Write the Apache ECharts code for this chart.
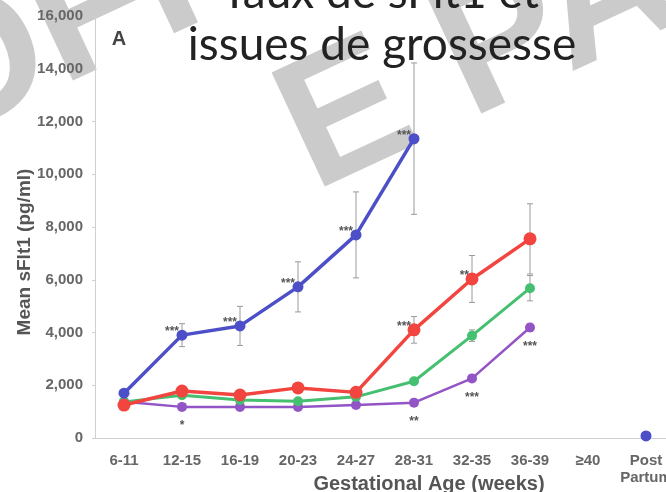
<!DOCTYPE html>
<html>
<head>
<meta charset="utf-8">
<script src="https://cdn.jsdelivr.net/npm/echarts@6/dist/echarts.min.js"></script>
<style>
  html, body { margin: 0; padding: 0; background: #fff; }
  #wrap { position: relative; width: 666px; height: 492px; overflow: hidden; background: #fff; }
  #plot { position: absolute; left: 0; top: 0; width: 682px; height: 492px; filter: blur(0.6px); }
  #head { position: absolute; left: 0; top: 0; width: 666px; height: 492px; pointer-events: none; }
</style>
</head>
<body>
<div id="wrap"><div id="plot"></div><div id="head"></div></div>
<script>
// Gestational age groups (x categories)
const ageGroups = ['6-11', '12-15', '16-19', '20-23', '24-27', '28-31', '32-35', '36-39', '≥40', 'Post\nPartum'];

// Value axis range (pg/ml)
const yMin = 0;
const yMax = 16000;
const yStep = 2000;

// Mean sFlt1 per group, one array per outcome group
const blueMean   = [1700, 3900, 4250, 5730, 7700, 11350, null, null, null, 80];
const redMean    = [1250, 1780, 1630, 1900, 1730, 4100, 6030, 7550, null, null];
const greenMean  = [1370, 1620, 1440, 1390, 1560, 2150, 3880, 5680, null, null];
const purpleMean = [1370, 1180, 1180, 1180, 1250, 1340, 2260, 4190, null, 80];

// Error (± around the mean)
const blueErr   = [null, 435, 740, 950, 1630, 2870, null, null, null, null];
const redErr    = [null, null, null, null, null, 505, 890, 1330, null, null];
const greenErr  = [null, null, null, null, null, 120, 220, 480, null, null];
const purpleErr = [null, null, null, null, null, null, null, 150, null, null];

// Significance marks: [group, category index, text, placement]
const sigMarks = [
  ['blue', 1, '***', 'left'],
  ['blue', 2, '***', 'left'],
  ['blue', 3, '***', 'left'],
  ['blue', 4, '***', 'left'],
  ['blue', 5, '***', 'left'],
  ['red', 5, '***', 'left'],
  ['red', 6, '**', 'left'],
  ['purple', 1, '*', 'below'],
  ['purple', 5, '**', 'below'],
  ['purple', 6, '***', 'below'],
  ['purple', 7, '***', 'below']
];

const colors = { blue: '#4c4fc7', red: '#f2453f', green: '#45bf70', purple: '#9354c6' };
const means = { blue: blueMean, red: redMean, green: greenMean, purple: purpleMean };
const errs = { blue: blueErr, red: redErr, green: greenErr, purple: purpleErr };

function errorRows() {
  const rows = [];
  Object.keys(errs).forEach(function (k) {
    errs[k].forEach(function (e, i) {
      if (e != null && means[k][i] != null) rows.push([i, means[k][i] - e, means[k][i] + e]);
    });
  });
  return rows;
}

function lineSeries(key, size, width) {
  return {
    type: 'line',
    name: key,
    data: means[key],
    connectNulls: false,
    symbol: 'circle',
    symbolSize: size,
    color: colors[key],
    lineStyle: { width: width, color: colors[key] },
    itemStyle: { color: colors[key] },
    z: 3
  };
}

const labelFont = { fontFamily: 'Liberation Sans', fontSize: 15, fontWeight: 'bold', color: '#666' };
const tilt = 25 * Math.PI / 180;

const plot = echarts.init(document.getElementById('plot'), null, { renderer: 'canvas' });
plot.setOption({
  animation: false,
  backgroundColor: '#fff',
  grid: { left: 95, top: 16, bottom: 54, right: 7, containLabel: false, outerBoundsMode: 'none' },
  xAxis: {
    type: 'category',
    data: ageGroups,
    boundaryGap: true,
    name: 'Gestational Age (weeks)',
    nameLocation: 'middle',
    nameGap: 36,
    nameMoveOverlap: false,
    nameTextStyle: { fontFamily: 'Liberation Sans', fontSize: 20, fontWeight: 'bold', color: '#555', padding: [0, 0, 0, 88] },
    axisLine: { lineStyle: { color: '#cfcfcf', width: 1 } },
    axisTick: { alignWithLabel: true, length: 3, lineStyle: { color: '#cfcfcf' } },
    axisLabel: Object.assign({ interval: 0, margin: 14, lineHeight: 17 }, labelFont),
    splitLine: { show: false }
  },
  yAxis: {
    type: 'value',
    min: yMin,
    max: yMax,
    interval: yStep,
    name: 'Mean sFlt1 (pg/ml)',
    nameLocation: 'middle',
    nameGap: 61,
    nameMoveOverlap: false,
    nameTextStyle: { fontFamily: 'Liberation Sans', fontSize: 19, fontWeight: 'bold', color: '#555', padding: [0, 50, 0, 0] },
    axisLine: { show: true, lineStyle: { color: '#cfcfcf', width: 1 } },
    axisTick: { show: true, length: 3, lineStyle: { color: '#cfcfcf' } },
    axisLabel: Object.assign({
      margin: 12,
      formatter: function (v) { return v.toLocaleString('en-US'); }
    }, labelFont),
    splitLine: { show: false }
  },
  graphic: [
    {
      type: 'text', x: -50, y: 183, rotation: tilt, z: -10,
      style: { text: 'OFF', fontFamily: 'Liberation Sans', fontWeight: 'bold', fontSize: 183, fill: '#cbcbcb', textAlign: 'left', textVerticalAlign: 'bottom' }
    },
    {
      type: 'text', x: 331, y: 229, rotation: tilt, z: -10,
      style: { text: 'E PA', fontFamily: 'Liberation Sans', fontWeight: 'bold', fontSize: 183, fill: '#cbcbcb', textAlign: 'left', textVerticalAlign: 'bottom' }
    },
    {
      type: 'text', x: 119, y: 39, z: 5,
      style: { text: 'A', fontFamily: 'Liberation Sans', fontWeight: 'bold', fontSize: 20, fill: '#444', textAlign: 'center', textVerticalAlign: 'middle' }
    }
  ],
  series: [
    {
      type: 'custom',
      name: 'error',
      data: errorRows(),
      z: 2,
      renderItem: function (params, api) {
        const lo = api.coord([api.value(0), api.value(1)]);
        const hi = api.coord([api.value(0), api.value(2)]);
        const st = { stroke: '#9a9a9a', lineWidth: 1 };
        return {
          type: 'group',
          children: [
            { type: 'line', shape: { x1: lo[0], y1: lo[1], x2: hi[0], y2: hi[1] }, style: st },
            { type: 'line', shape: { x1: lo[0] - 3, y1: lo[1], x2: lo[0] + 3, y2: lo[1] }, style: st },
            { type: 'line', shape: { x1: hi[0] - 3, y1: hi[1], x2: hi[0] + 3, y2: hi[1] }, style: st }
          ]
        };
      }
    },
    lineSeries('purple', 10, 2.5),
    lineSeries('green', 10, 3),
    lineSeries('red', 13, 3.5),
    lineSeries('blue', 11, 3.5),
    {
      type: 'custom',
      name: 'significance',
      data: sigMarks.map(function (m) { return [m[1], means[m[0]][m[1]]]; }),
      z: 4,
      renderItem: function (params, api) {
        const m = sigMarks[params.dataIndex];
        const p = api.coord([api.value(0), api.value(1)]);
        const left = m[3] === 'left';
        return {
          type: 'text',
          x: left ? p[0] - 3 : p[0],
          y: left ? p[1] - 3 : p[1] + 19,
          style: {
            text: m[2], fontFamily: 'Liberation Sans', fontWeight: 'bold', fontSize: 12, fill: '#555',
            textAlign: left ? 'right' : 'center', textVerticalAlign: 'middle'
          }
        };
      }
    }
  ]
});

// Slide heading drawn crisp on its own layer
const head = echarts.init(document.getElementById('head'), null, { renderer: 'canvas' });
head.setOption({
  animation: false,
  graphic: [
    {
      type: 'text', x: 380, y: -7,
      style: { text: 'Taux de sFlt1 et', fontFamily: 'Lato', fontSize: 46, fill: '#222', textAlign: 'center', textVerticalAlign: 'middle' }
    },
    {
      type: 'text', x: 382, y: 45,
      style: { text: 'issues de grossesse', fontFamily: 'Lato', fontSize: 46, fill: '#222', textAlign: 'center', textVerticalAlign: 'middle' }
    }
  ]
});
</script>
</body>
</html>
